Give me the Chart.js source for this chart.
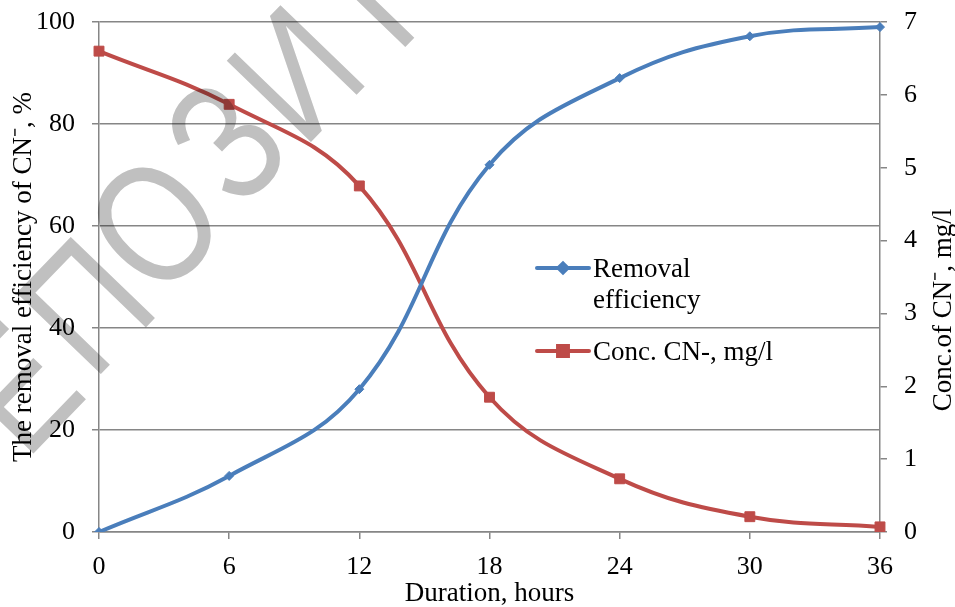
<!DOCTYPE html>
<html>
<head>
<meta charset="utf-8">
<script src="https://cdn.jsdelivr.net/npm/chart.js@4.4.1/dist/chart.umd.min.js"></script>
<style>
  html, body { margin: 0; padding: 0; background: #fff; }
</style>
</head>
<body>
<canvas id="chart" width="955" height="607"></canvas>
<script>
const hours   = ['0', '6', '12', '18', '24', '30', '36'];
const removal = [0, 11, 28, 72, 89, 97.2, 99];
const conc    = [6.6, 5.87, 4.75, 1.85, 0.73, 0.21, 0.07];
const seriesNames = ['Removal efficiency', 'Conc. CN-, mg/l'];
const rightTitle = 'Conc.of CN⁻, mg/l';

const BLUE = '#4a7ebb';
const RED  = '#be4b48';
const AXIS = '#868686';
const SERIF = '"Liberation Serif", "Times New Roman", serif';

// legend drawn inside the plot, as in the original
const insideLegend = {
  id: 'insideLegend',
  afterDatasetsDraw(chart) {
    const ctx = chart.ctx;
    ctx.save();
    ctx.font = `27px ${SERIF}`;
    ctx.textBaseline = 'middle';
    ctx.lineCap = 'round';
    ctx.lineWidth = 4;

    const rows = [
      { y: 268, lines: ['Removal', 'efficiency'], color: BLUE, style: 'rectRot', r: 4.5 },
      { y: 351, lines: [seriesNames[1]], color: RED, style: 'rect', r: 7 },
    ];
    rows.forEach(row => {
      ctx.strokeStyle = row.color;
      ctx.beginPath();
      ctx.moveTo(537, row.y);
      ctx.lineTo(589, row.y);
      ctx.stroke();
      ctx.fillStyle = row.color;
      Chart.helpers.drawPoint(ctx, { pointStyle: row.style, radius: row.r, borderWidth: 1 }, 563, row.y);
      ctx.fillStyle = '#000';
      row.lines.forEach((t, i) => ctx.fillText(t, 593, row.y + 2 + i * 31));
    });

    // right axis title reads bottom to top, like the left one
    ctx.translate(944, 310);
    ctx.rotate(-Math.PI / 2);
    ctx.textAlign = 'center';
    ctx.fillText(rightTitle, 0, 0);
    ctx.restore();
  },
};

// grey watermark letters across the upper left (part of "РЕПОЗИТОРИЙ")
const stamp = [
  ['Е', 14, 386], ['П', 84, 304], ['О', 153, 222],
  ['З', 224, 140], ['И', 294, 72], ['Т', 366, 0],
];
const watermark = {
  id: 'watermark',
  afterDraw(chart) {
    const ctx = chart.ctx;
    const size = 170;
    ctx.save();
    ctx.font = `${size}px "Liberation Sans", Arial, sans-serif`;
    ctx.globalCompositeOperation = 'multiply';
    ctx.fillStyle = '#c0c0c0';
    ctx.textAlign = 'center';
    ctx.textBaseline = 'alphabetic';
    const cap = size * 0.716;
    stamp.forEach(([ch, x, y]) => {
      ctx.save();
      ctx.translate(x, y);
      ctx.rotate(-46 * Math.PI / 180);
      ctx.scale(0.82, 1);
      ctx.fillText(ch, 0, cap / 2);
      ctx.restore();
    });
    ctx.restore();
  },
};

new Chart(document.getElementById('chart'), {
  type: 'line',
  data: {
    labels: hours,
    datasets: [
      {
        label: seriesNames[0],
        data: removal,
        yAxisID: 'y',
        borderColor: BLUE,
        backgroundColor: BLUE,
        borderWidth: 4,
        tension: 0.4,
        pointStyle: 'rectRot',
        pointRadius: 4.5,
        pointBorderWidth: 1,
      },
      {
        label: seriesNames[1],
        data: conc,
        yAxisID: 'y2',
        borderColor: RED,
        backgroundColor: RED,
        borderWidth: 4,
        tension: 0.4,
        pointStyle: 'rect',
        pointRadius: 7,
        pointBorderWidth: 1,
      },
    ],
  },
  options: {
    responsive: false,
    animation: false,
    layout: { padding: { top: 22, left: 0, right: 0, bottom: 0 } },
    plugins: {
      legend: { display: false },
      tooltip: { enabled: false },
    },
    scales: {
      x: {
        offset: false,
        afterFit: s => { s.height = 75; },
        border: { color: AXIS, width: 1.5 },
        grid: { drawOnChartArea: false, drawTicks: true, tickLength: 7, color: AXIS, lineWidth: 1.5 },
        ticks: { color: '#000', font: { family: SERIF, size: 26 }, padding: 13, maxRotation: 0 },
        title: { display: true, text: 'Duration, hours', color: '#000', font: { family: SERIF, size: 27, lineHeight: 1.0 }, padding: 0 },
      },
      y: {
        position: 'left',
        min: 0, max: 100,
        afterFit: s => { s.width = 99; },
        border: { color: AXIS, width: 1.5 },
        grid: { color: AXIS, lineWidth: 1.5, tickLength: 7 },
        ticks: { stepSize: 20, color: '#000', font: { family: SERIF, size: 26, lineHeight: 0.3 }, padding: 17 },
        title: { display: true, text: 'The removal efficiency of CN⁻, %', color: '#000', font: { family: SERIF, size: 27 }, padding: { top: 8, bottom: 0 } },
      },
      y2: {
        position: 'right',
        min: 0, max: 7,
        afterFit: s => { s.width = 75; },
        border: { color: AXIS, width: 1.5 },
        grid: { drawOnChartArea: false, color: AXIS, lineWidth: 1.5, tickLength: 7 },
        ticks: { stepSize: 1, color: '#000', font: { family: SERIF, size: 26, lineHeight: 0.3 }, padding: 17 },
      },
    },
  },
  plugins: [insideLegend, watermark],
});
</script>
</body>
</html>
